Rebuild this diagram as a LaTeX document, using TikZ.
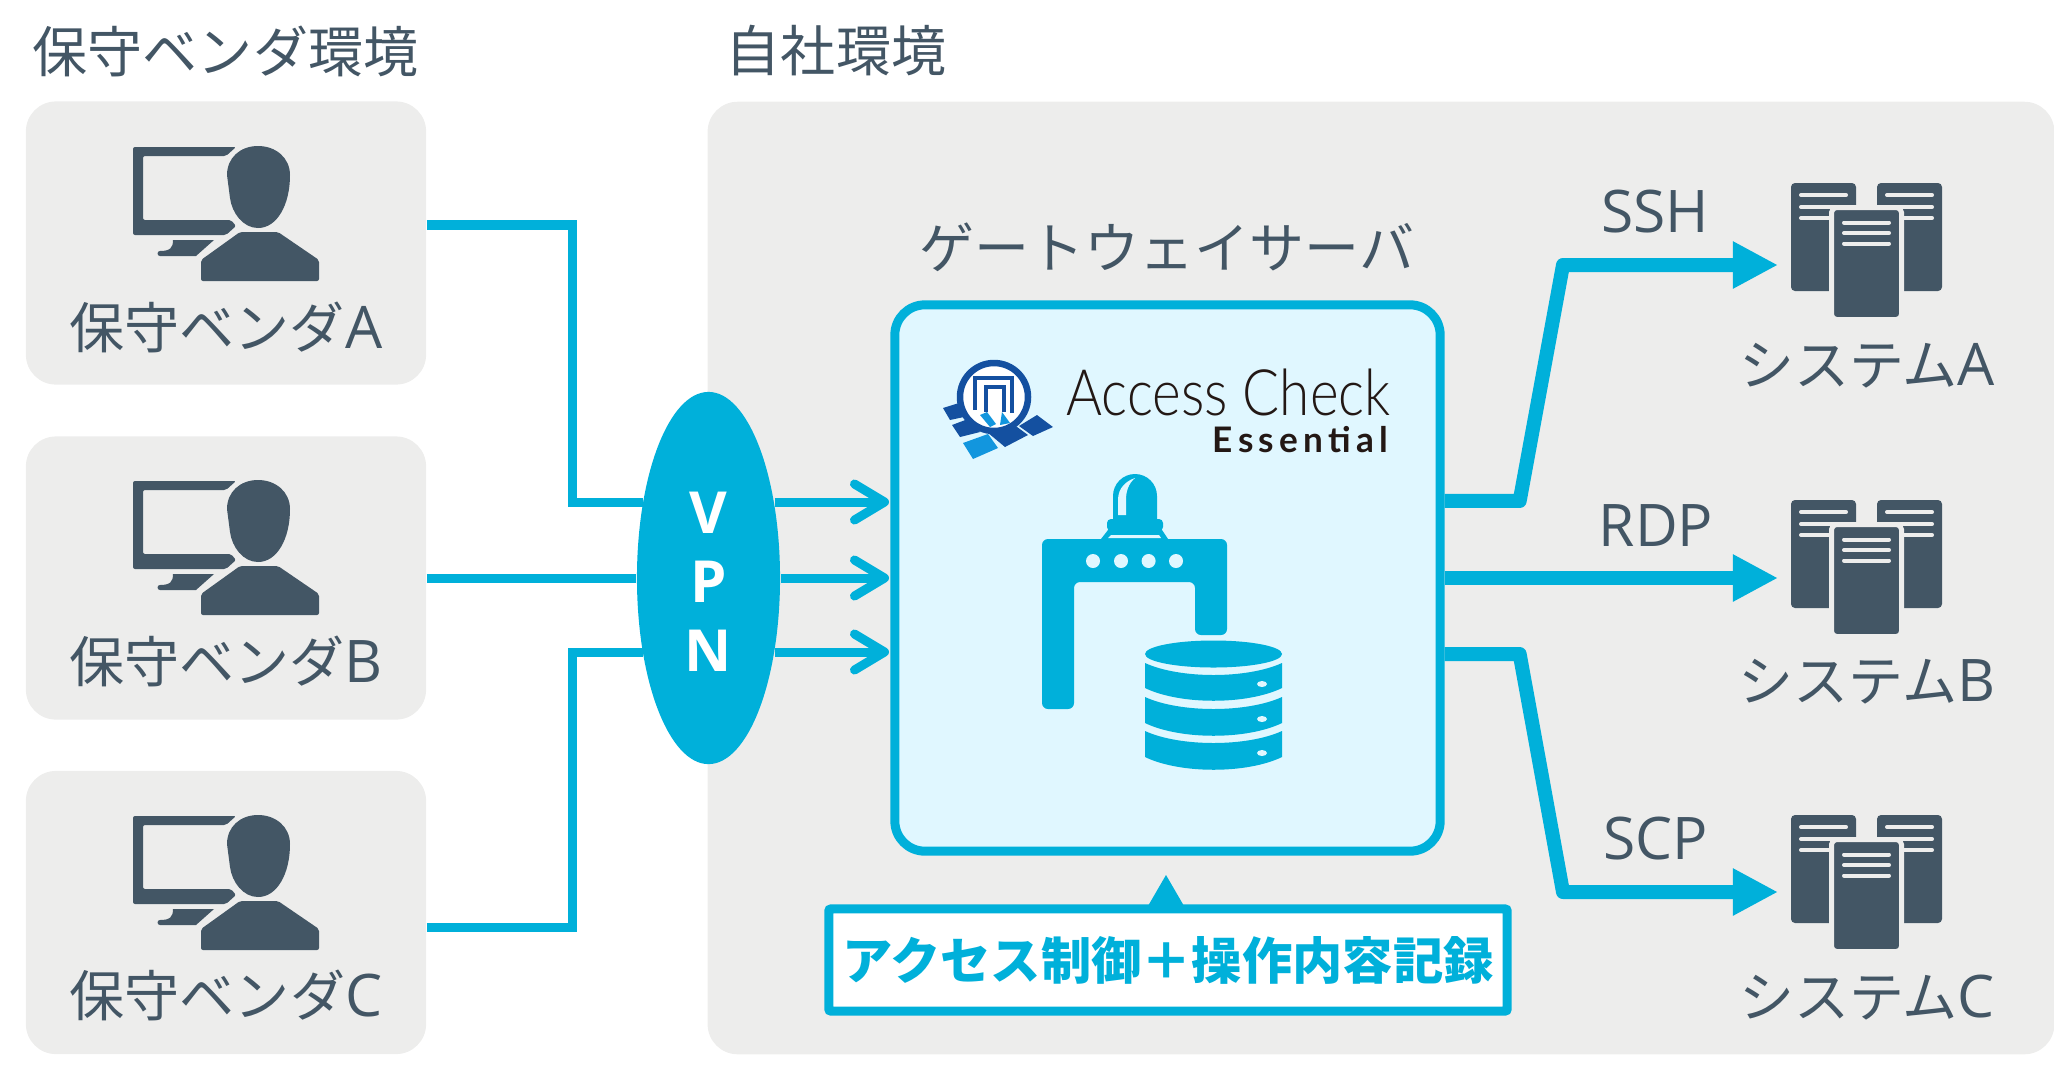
\documentclass[tikz,border=0pt]{standalone}
\usepackage{fontspec}
\usepackage{graphicx}
\usetikzlibrary{arrows.meta,shapes.geometric}
\setmainfont{Open Sans}
\newfontfamily\cjk{Noto Sans CJK JP}
\newfontfamily\logofont{Lato Light}
\newfontfamily\logosub[LetterSpace=15]{Lato}
\newcommand{\jp}[1]{{\cjk\fontsize{15.65}{18}\selectfont #1}}
\definecolor{slate}{HTML}{435665}
\definecolor{accent}{HTML}{00B0DA}
\definecolor{panelgray}{HTML}{EDEDEC}
\definecolor{gatefill}{HTML}{E0F7FF}
\definecolor{logodark}{HTML}{1450A0}
\definecolor{logolight}{HTML}{1296DE}
\definecolor{logotext}{HTML}{231815}
\tikzset{
    vendorbox/.style={fill=panelgray,rounded corners=0.3cm,minimum width=4cm,minimum height=2.83cm,inner sep=0},
    labeltext/.style={text=slate,inner sep=0,font=\fontsize{16.7}{20}\selectfont},
    link/.style={draw=accent,line width=0.09cm},
    inarrow/.style={link,-{Straight Barb[round,length=0.3cm,width=0.36cm]}},
    feed/.style={draw=accent,line width=0.14cm,line join=round,-{Triangle[length=0.45cm,width=0.44cm]}},
    staff/.pic={
        \fill[slate,even odd rule,rounded corners=0.02cm] (133,147) -- (236,147) -- (226,156) -- (143,156) -- (143,220) -- (231,220) -- (236,226) -- (226,235) -- (133,235) -- cycle;
        \fill[slate] (173,240) -- (214,240) -- (196,256) -- (160,256) arc (90:270:2.5) .. controls (170,251) and (173,248) .. (173,240) -- cycle;
        \fill[slate] (258,146) .. controls (276,146) and (290,158) .. (290,175) .. controls (290,205) and (277,228) .. (258,228) .. controls (243,228) and (232,213) .. (230,198) -- (227,175) .. controls (227,158) and (240,146) .. (258,146) -- cycle;
        \fill[slate,rounded corners=0.02cm] (240,232) -- (278,232) -- (319,260) -- (319,281) -- (201,281) -- (201,260) -- cycle;
    },
    servers/.pic={
        \fill[slate,rounded corners=0.04cm] (1791,183) rectangle (1856,291);
        \fill[slate,rounded corners=0.04cm] (1877,183) rectangle (1942,291);
        \foreach \yy in {195,207,218} {
            \draw[panelgray,line width=0.04cm,line cap=round] (1801,\yy) -- (1846,\yy);
            \draw[panelgray,line width=0.04cm,line cap=round] (1887,\yy) -- (1932,\yy);
        }
        \filldraw[fill=slate,draw=panelgray,line width=0.05cm,rounded corners=0.05cm] (1831.5,207.5) rectangle (1901.5,319.5);
        \foreach \yy in {222.5,233,243.5}
            \draw[panelgray,line width=0.04cm,line cap=round] (1844,\yy) -- (1889,\yy);
    },
}
\begin{document}
\begin{tikzpicture}[x=0.01cm,y=-0.01cm]
    \useasboundingbox (0,0) rectangle (2054,1069);

    % Paneles de fondo
    \node[fill=panelgray,rounded corners=0.3cm,minimum width=13.46cm,minimum height=9.52cm,inner sep=0] (site) at (1381,578) {};
    \node[vendorbox] (vendorA) at (226,243) {};
    \node[vendorbox] (vendorB) at (226,578) {};
    \node[vendorbox] (vendorC) at (226,912.5) {};

    % Titulos
    \node[labeltext] (headVendor) at (225.5,51) {\jp{保守ベンダ環境}};
    \node[labeltext] (headSite) at (836,51) {\jp{自社環境}};
    \node[labeltext] (headGate) at (1167,247) {\jp{ゲートウェイサーバ}};

    % Proveedores
    \pic at (0,0) {staff};
    \pic at (0,334) {staff};
    \pic at (0,669) {staff};
    \node[labeltext] (nameA) at (226,327) {\jp{保守ベンダ}A};
    \node[labeltext] (nameB) at (226,661) {\jp{保守ベンダ}B};
    \node[labeltext] (nameC) at (226,995) {\jp{保守ベンダ}C};

    % Servidor de acceso
    \node[draw=accent,fill=gatefill,line width=0.09cm,rounded corners=0.3cm,minimum width=5.45cm,minimum height=5.46cm,inner sep=0] (gw) at (1167.5,578) {};

    % VPN
    \node[ellipse,fill=accent,inner sep=0,minimum width=1.43cm,minimum height=3.72cm] (vpn) at (708.5,578) {};
    \node[text=white,inner sep=0,align=center,font=\bfseries\fontsize{16.5}{19.6}\selectfont] (vpnText) at (708.5,582) {V\\P\\N};

    % Entradas
    \coordinate (hubA) at (572,502);
    \coordinate (hubC) at (572,652);
    \coordinate (tipA) at (889,502);
    \coordinate (tipB) at (889,578);
    \coordinate (tipC) at (889,652);
    \draw[link] ([yshift=0.18cm]vendorA.east) -| (hubA) -- (vpn.131 |- hubA);
    \draw[link] (vendorB.east) -- (vpn.west);
    \draw[link] ([yshift=-0.15cm]vendorC.east) -| (hubC) -- (vpn.229 |- hubC);
    \draw[inarrow] (vpn.49 |- tipA) -- (tipA);
    \draw[inarrow] (vpn.east |- tipB) -- (tipB);
    \draw[inarrow] (vpn.311 |- tipC) -- (tipC);

    % Logo
    \fill[logodark] (943,408) -- (959,403) -- (964,417) -- (950,420) -- cycle;
    \fill[logodark] (952,425) -- (968,419) -- (980,432) -- (960,437) -- cycle;
    \fill[logodark] (987,432) -- (1013,424) -- (1028,435) -- (1005,447) -- cycle;
    \fill[logodark] (1019,426) -- (1037,415) -- (1053,427) -- (1033,436) -- cycle;
    \fill[logolight] (963,443) -- (988,434) -- (998,448) -- (973,459) -- cycle;
    \filldraw[fill=white,draw=logodark,line width=0.065cm] (994,397) circle (34);
    \draw[logodark,line width=0.045cm] (975,410) -- (975,378) -- (1012,378) -- (1012,413);
    \draw[logodark,line width=0.045cm] (986,412) -- (986,387) -- (1004,387) -- (1004,412);
    \fill[logolight] (980,415) -- (987,412) -- (996,424) -- (990,427) -- cycle;
    \fill[logolight] (1002,412) -- (1010,423) -- (1000,425) -- cycle;
    \node[anchor=base west,inner sep=0,text=logotext,font=\logofont\fontsize{18.2}{20}\selectfont] (brand) at (1066,415) {\scalebox{0.857}[1]{Access Check}};
    \node[anchor=base east,inner sep=0,text=logotext,font=\logosub\bfseries\fontsize{10}{12}\selectfont] (brandSub) at (1389,452) {Essential};

    % Portico
    \fill[accent,rounded corners=0.06cm] (1042,709) -- (1042,539) -- (1227,539) -- (1227,635) -- (1195,635) -- (1195,582) -- (1074,582) -- (1074,709) -- cycle;
    \foreach \xx in {1093,1121,1148.6,1176}
        \fill[gatefill] (\xx,561) circle (7);
    \fill[accent] (1113,519) -- (1113,496) arc (180:360:22) -- (1157,519) -- cycle;
    \fill[gatefill] (1118,515) -- (1118,500) .. controls (1118,488) and (1126,481) .. (1135,478) .. controls (1128,484) and (1126,492) .. (1126,500) -- (1126,515) -- cycle;
    \fill[accent,rounded corners=0.04cm] (1107,519) rectangle (1163,531);
    \fill[accent] (1108,530) -- (1162,530) -- (1168,539) -- (1101,539) -- cycle;
    \fill[gatefill] (1111,535) -- (1159,535) -- (1161,538) -- (1108,538) -- cycle;

    % Base de datos
    \fill[accent] (1213.5,654) ellipse (68.5 and 13.5);
    \foreach \ya/\yb/\yc in {663/688/684,697/723/719,731/757/753} {
        \fill[accent] (1145,\ya) .. controls (1180,\ya+16) and (1247,\ya+16) .. (1282,\ya) -- (1282,\yb) .. controls (1247,\yb+17) and (1180,\yb+17) .. (1145,\yb) -- cycle;
        \fill[gatefill] (1262,\yc) ellipse (5 and 3);
    }

    % Salidas
    \coordinate (tipSysA) at (1778,265);
    \coordinate (tipSysB) at (1778,578);
    \coordinate (tipSysC) at (1778,892);
    \draw[feed] ([yshift=0.77cm]gw.east) -- ++(75,0) -- (1563,265) -- (tipSysA);
    \draw[feed] (gw.east |- tipSysB) -- (tipSysB);
    \draw[feed] ([yshift=-0.76cm]gw.east) -- ++(75,0) -- (1563,892) -- (tipSysC);
    \node[labeltext] (ssh) at (1655,212) {SSH};
    \node[labeltext] (rdp) at (1656,526) {RDP};
    \node[labeltext] (scp) at (1656,839) {SCP};

    % Sistemas
    \pic at (0,0) {servers};
    \pic at (0,317) {servers};
    \pic at (0,632) {servers};
    \node[labeltext] (sysA) at (1867,366) {\jp{システム}A};
    \node[labeltext] (sysB) at (1867,682) {\jp{システム}B};
    \node[labeltext] (sysC) at (1867,998) {\jp{システム}C};

    % Nota
    \fill[accent] (1148,906) -- (1166,875) -- (1184,906) -- cycle;
    \node[draw=accent,fill=white,line width=0.09cm,rounded corners=0.02cm,minimum width=6.78cm,minimum height=1.02cm,inner sep=0,text=accent,font=\cjk\bfseries\fontsize{14.3}{17}\selectfont] (note) at (1168,960) {アクセス制御＋操作内容記録};
\end{tikzpicture}
\end{document}
